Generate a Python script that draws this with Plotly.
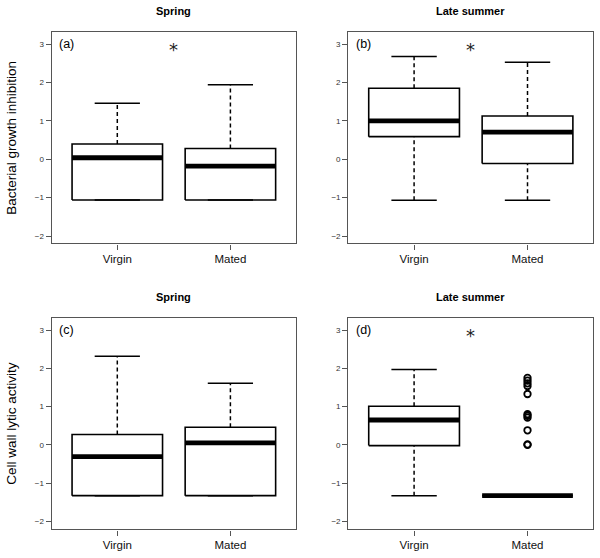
import plotly.graph_objects as go

# ---------------- data ----------------
groups = ["Virgin", "Mated"]
positions = [1, 2]

# panel (a) Spring - Bacterial growth inhibition
a_low = [-1.06, -1.06]
a_q1 = [-1.06, -1.06]
a_med = [0.04, -0.18]
a_q3 = [0.40, 0.28]
a_high = [1.46, 1.94]
a_out = [[], []]

# panel (b) Late summer - Bacterial growth inhibition
b_low = [-1.07, -1.07]
b_q1 = [0.59, -0.11]
b_med = [1.00, 0.71]
b_q3 = [1.85, 1.13]
b_high = [2.68, 2.53]
b_out = [[], []]

# panel (c) Spring - Cell wall lytic activity
c_low = [-1.33, -1.33]
c_q1 = [-1.33, -1.33]
c_med = [-0.31, 0.05]
c_q3 = [0.27, 0.46]
c_high = [2.32, 1.61]
c_out = [[], []]

# panel (d) Late summer - Cell wall lytic activity
d_low = [-1.33, -1.33]
d_q1 = [-0.02, -1.33]
d_med = [0.65, -1.33]
d_q3 = [1.01, -1.33]
d_high = [1.97, -1.33]
d_out = [[], [1.75, 1.68, 1.61, 1.54, 1.33, 0.80, 0.76, 0.71, 0.38, 0.01, 0.0]]

panel_titles = ["Spring", "Late summer", "Spring", "Late summer"]
panel_tags = ["(a)", "(b)", "(c)", "(d)"]
panel_sig = [True, True, False, True]
y_titles = ["Bacterial growth inhibition", "Cell wall lytic activity"]
y_ticks = [-2, -1, 0, 1, 2, 3]

panels = [
    (a_low, a_q1, a_med, a_q3, a_high, a_out),
    (b_low, b_q1, b_med, b_q3, b_high, b_out),
    (c_low, c_q1, c_med, c_q3, c_high, c_out),
    (d_low, d_q1, d_med, d_q3, d_high, d_out),
]

# ---------------- layout geometry ----------------
W, H = 600, 558
x_domains = [[51.7 / W, 296 / W], [348.3 / W, 593.3 / W]]
y_domains = [[1 - 243.3 / H, 1 - 32.3 / H], [1 - 529.3 / H, 1 - 318.3 / H]]
y_ranges = [[-2.19, 3.31], [-2.21, 3.31]]

BOXW = 0.4   # half box width
STAPW = 0.2  # half staple width
FONT = "Liberation Sans, Arial, Helvetica, sans-serif"

fig = go.Figure()
annotations = []

for i, (lo, q1, med, q3, hi, outs) in enumerate(panels):
    row, col = divmod(i, 2)
    xa = "x" if i == 0 else f"x{i+1}"
    ya = "y" if i == 0 else f"y{i+1}"
    for j, c in enumerate(positions):
        # whiskers (dashed)
        if hi[j] > q3[j]:
            fig.add_trace(go.Scatter(x=[c, c], y=[q3[j], hi[j]], mode="lines",
                                     line=dict(color="black", width=1.5, dash="4px,3px"),
                                     xaxis=xa, yaxis=ya, showlegend=False, hoverinfo="skip"))
        if lo[j] < q1[j]:
            fig.add_trace(go.Scatter(x=[c, c], y=[lo[j], q1[j]], mode="lines",
                                     line=dict(color="black", width=1.5, dash="4px,3px"),
                                     xaxis=xa, yaxis=ya, showlegend=False, hoverinfo="skip"))
        # staples
        for v in (lo[j], hi[j]):
            fig.add_trace(go.Scatter(x=[c - STAPW, c + STAPW], y=[v, v], mode="lines",
                                     line=dict(color="black", width=1.5),
                                     xaxis=xa, yaxis=ya, showlegend=False, hoverinfo="skip"))
        # box
        fig.add_trace(go.Scatter(x=[c - BOXW, c + BOXW, c + BOXW, c - BOXW, c - BOXW],
                                 y=[q1[j], q1[j], q3[j], q3[j], q1[j]], mode="lines",
                                 line=dict(color="black", width=1.6),
                                 xaxis=xa, yaxis=ya, showlegend=False, hoverinfo="skip"))
        # median
        fig.add_trace(go.Scatter(x=[c - BOXW, c + BOXW], y=[med[j], med[j]], mode="lines",
                                 line=dict(color="black", width=4.8),
                                 xaxis=xa, yaxis=ya, showlegend=False, hoverinfo="skip"))
        # outliers
        if outs[j]:
            fig.add_trace(go.Scatter(x=[c] * len(outs[j]), y=outs[j], mode="markers",
                                     marker=dict(symbol="circle-open", size=6.5, color="black",
                                                 line=dict(width=1.8, color="black")),
                                     xaxis=xa, yaxis=ya, showlegend=False, hoverinfo="skip"))

    axis_common = dict(showline=True, mirror=True, linecolor="#555555", linewidth=1.4,
                       showgrid=False, zeroline=False, ticks="outside", ticklen=5,
                       tickcolor="#555555", tickwidth=1)
    fig.update_layout(**{
        ("xaxis" if i == 0 else f"xaxis{i+1}"): dict(
            domain=x_domains[col], range=[0.42, 2.58], tickvals=positions, ticktext=groups,
            tickfont=dict(family=FONT, size=11.5, color="#111111"), anchor=ya,
            **axis_common),
        ("yaxis" if i == 0 else f"yaxis{i+1}"): dict(
            domain=y_domains[row], range=y_ranges[row], tickvals=y_ticks,
            tickfont=dict(family=FONT, size=8, color="#333333"), anchor=xa,
            **axis_common),
    })

    # panel title
    annotations.append(dict(text=f"<b>{panel_titles[i]}</b>", xref="paper", yref="paper",
                            x=sum(x_domains[col]) / 2, y=y_domains[row][1] + 21 / H,
                            xanchor="center", yanchor="middle", showarrow=False,
                            font=dict(family=FONT, size=11, color="black")))
    # tag
    annotations.append(dict(text=panel_tags[i], xref=xa, yref=ya, x=0.47, y=3,
                            xanchor="left", yanchor="middle", showarrow=False,
                            font=dict(family=FONT, size=12.5, color="black")))
    if panel_sig[i]:
        annotations.append(dict(text="*", xref=xa, yref=ya, x=1.5, y=2.86,
                                xanchor="center", yanchor="middle", showarrow=False,
                                font=dict(family="DejaVu Sans, sans-serif", size=18, color="#222222")))

for r in range(2):
    annotations.append(dict(text=y_titles[r], xref="paper", yref="paper",
                            x=12 / W, y=sum(y_domains[r]) / 2, textangle=-90,
                            xanchor="center", yanchor="middle", showarrow=False,
                            font=dict(family=FONT, size=13.5, color="black")))

fig.update_layout(width=W, height=H, margin=dict(l=0, r=0, t=0, b=0),
                  paper_bgcolor="white", plot_bgcolor="white",
                  annotations=annotations, showlegend=False)

fig.write_html("out.html", config={"displayModeBar": False},
               post_script="document.body.style.margin='0px';")
